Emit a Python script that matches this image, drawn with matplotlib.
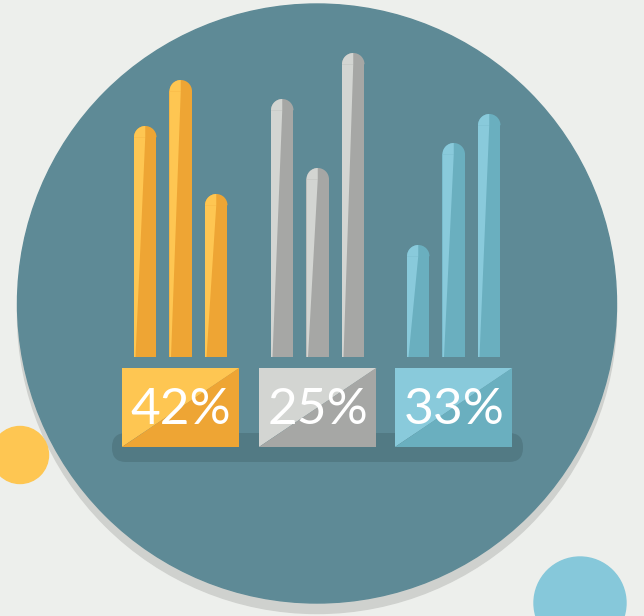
import matplotlib.pyplot as plt
from matplotlib.patches import Circle, Rectangle, Wedge, Polygon, FancyBboxPatch

# Data
labels = ["42%", "25%", "33%"]
yellow_bars = [231, 277, 163]
grey_bars = [258, 189, 304]
blue_bars = [112, 214, 243]
group_values = [yellow_bars, grey_bars, blue_bars]

# Colours per group: (main, highlight)
group_colors = [("#EEA534", "#FEC652"), ("#A6A7A5", "#D3D5D2"), ("#6AAFBF", "#89CADB")]

# Layout (pixel space)
W, H = 644, 616
group_x0 = [134, 271, 407]
bar_step = 35.5
bar_w = 22.5
baseline = 357
box_top, box_bot = 368, 447
box_pad = 12

fig = plt.figure(figsize=(W / 100, H / 100), dpi=100)
fig.patch.set_facecolor("#EDEFEC")
ax = fig.add_axes([0, 0, 1, 1])
ax.set_xlim(0, W)
ax.set_ylim(H, 0)
ax.set_aspect("equal")
ax.axis("off")

# Background circles
ax.add_patch(Circle((317, 314), 299.5, color="#CFD1CE", zorder=1))
ax.add_patch(Circle((317, 303.5), 299.5, color="#5E8A96", zorder=2))
ax.add_patch(Circle((20, 455), 28.5, color="#FEC652", zorder=3))
ax.add_patch(Circle((580, 603), 46, color="#86C8DA", zorder=3))

# Base shadow
ax.add_patch(FancyBboxPatch((112, 433), 411, 29, boxstyle="round,pad=0,rounding_size=14",
                            color="#527A84", lw=0, zorder=3))

r = bar_w / 2
for g, vals in enumerate(group_values):
    main, light = group_colors[g]
    for i, h in enumerate(vals):
        left = group_x0[g] + i * bar_step
        cx = left + r
        top = baseline - h
        # body + rounded cap
        ax.add_patch(Rectangle((left, top + r), bar_w, h - r, color=main, lw=0, zorder=4))
        ax.add_patch(Wedge((cx, top + r), r, 180, 360, color=main, lw=0, zorder=4))
        # highlight sliver
        ax.add_patch(Polygon([(left, baseline), (left + 1.5, baseline), (cx, top + r), (left, top + r)],
                             closed=True, color=light, lw=0, zorder=5))
        ax.add_patch(Wedge((cx, top + r), r, 180, 270, color=light, lw=0, zorder=5))

    # label box split diagonally
    bx0 = group_x0[g] - box_pad
    bx1 = group_x0[g] + 2 * bar_step + bar_w + box_pad
    ax.add_patch(Polygon([(bx0, box_top), (bx1, box_top), (bx0, box_bot)], closed=True,
                         color=light, lw=0, zorder=6))
    ax.add_patch(Polygon([(bx1, box_top), (bx1, box_bot), (bx0, box_bot)], closed=True,
                         color=main, lw=0, zorder=6))
    ax.text((bx0 + bx1) / 2, (box_top + box_bot) / 2 + 2, labels[g], color="white",
            fontsize=37, family="Lato", fontweight="normal",
            ha="center", va="center", zorder=7)

fig.savefig("out.png", dpi=100, facecolor=fig.get_facecolor())
